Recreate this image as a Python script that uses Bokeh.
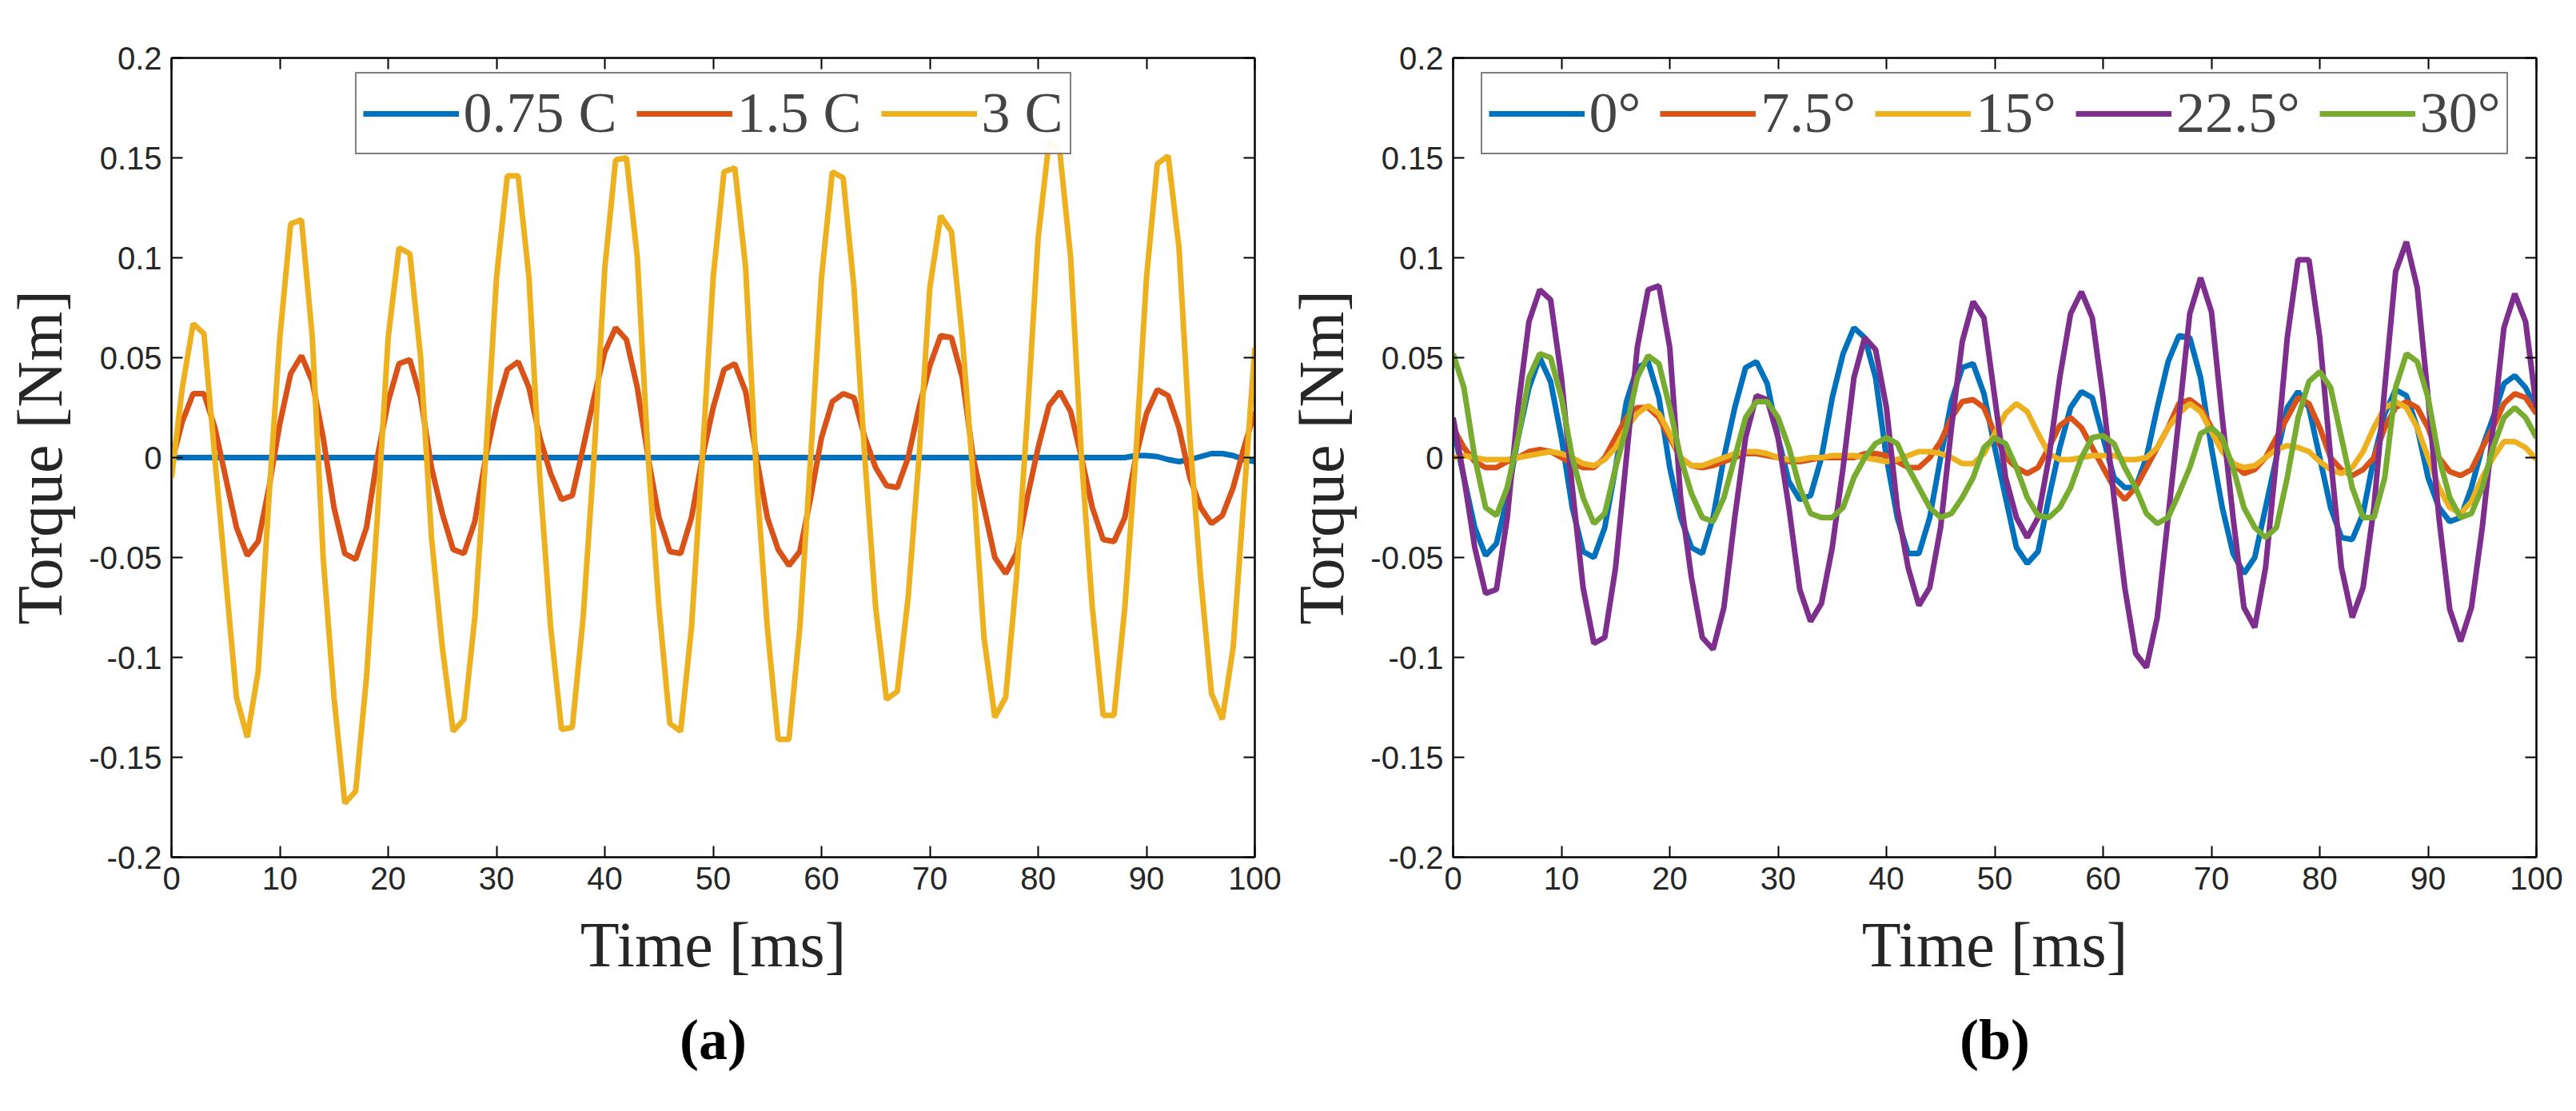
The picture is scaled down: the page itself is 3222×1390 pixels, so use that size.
from bokeh.plotting import figure
from bokeh.layouts import row
from bokeh.models import (LinearAxis, Title, Range1d, FixedTicker, CustomJSTickFormatter, Legend, LegendItem)
from bokeh.embed import file_html
from bokeh.resources import INLINE

t = list(range(0, 101))

a_075 = [0.0]*89 + [0.001, 0.001, 0.0005, -0.001, -0.002, -0.001, 0.0005, 0.002, 0.002, 0.001, -0.001, -0.002]
a_15 = [-0.003,0.018,0.032,0.032,0.015,-0.01,-0.035,-0.049,-0.042,-0.015,0.017,0.042,0.051,0.038,0.01,-0.025,-0.048,-0.051,-0.035,0.0,
        0.028,0.047,0.049,0.03,-0.005,-0.028,-0.046,-0.048,-0.032,0.0,0.025,0.044,0.048,0.035,0.01,-0.008,-0.021,-0.019,0.005,0.03,
        0.053,0.065,0.059,0.035,0.0,-0.03,-0.047,-0.048,-0.03,0.0,0.025,0.044,0.047,0.033,0.0,-0.03,-0.046,-0.054,-0.047,-0.02,
        0.01,0.028,0.032,0.03,0.01,-0.005,-0.014,-0.015,0.0,0.025,0.046,0.061,0.06,0.04,0.0,-0.025,-0.05,-0.058,-0.048,-0.02,
        0.005,0.026,0.033,0.023,0.0,-0.025,-0.041,-0.042,-0.03,0.0,0.022,0.034,0.031,0.015,-0.01,-0.025,-0.033,-0.029,-0.015,0.005,0.023]
a_3 = [-0.01,0.035,0.067,0.062,0.0,-0.06,-0.12,-0.14,-0.107,-0.02,0.06,0.117,0.119,0.06,-0.05,-0.12,-0.173,-0.167,-0.11,-0.03,
       0.06,0.105,0.102,0.05,-0.04,-0.095,-0.137,-0.131,-0.08,0.0,0.09,0.141,0.141,0.09,-0.01,-0.085,-0.136,-0.135,-0.08,0.0,
       0.095,0.149,0.15,0.1,0.0,-0.075,-0.133,-0.137,-0.085,0.0,0.09,0.143,0.145,0.095,-0.01,-0.085,-0.141,-0.141,-0.085,0.0,
       0.09,0.143,0.14,0.085,0.0,-0.075,-0.121,-0.117,-0.07,0.0,0.085,0.121,0.113,0.06,-0.01,-0.09,-0.13,-0.12,-0.06,0.02,
       0.11,0.158,0.153,0.1,0.0,-0.075,-0.129,-0.129,-0.075,0.0,0.09,0.147,0.151,0.105,0.01,-0.06,-0.118,-0.131,-0.095,-0.02,0.055]

b_0 = [0.015,-0.01,-0.035,-0.049,-0.043,-0.02,0.01,0.035,0.05,0.038,0.01,-0.025,-0.047,-0.05,-0.035,-0.005,0.028,0.045,0.048,0.03,
       -0.005,-0.03,-0.045,-0.048,-0.03,0.0,0.025,0.045,0.048,0.037,0.01,-0.012,-0.021,-0.019,0.0,0.03,0.052,0.065,0.06,0.04,
       0.0,-0.03,-0.048,-0.048,-0.03,0.0,0.028,0.045,0.047,0.032,0.005,-0.02,-0.045,-0.053,-0.047,-0.02,0.005,0.025,0.033,0.03,
       0.01,-0.01,-0.015,-0.015,0.0,0.025,0.048,0.061,0.06,0.04,0.005,-0.025,-0.048,-0.058,-0.05,-0.025,0.0,0.025,0.033,0.025,
       0.0,-0.025,-0.04,-0.041,-0.028,0.0,0.022,0.034,0.031,0.015,-0.01,-0.025,-0.032,-0.03,-0.015,0.005,0.02,0.037,0.041,0.035,0.024]
b_75 = [0.015,0.005,-0.002,-0.005,-0.005,-0.002,0.0,0.003,0.004,0.003,0.0,-0.003,-0.005,-0.005,0.0,0.01,0.02,0.025,0.025,0.02,
        0.01,0.0,-0.004,-0.005,-0.004,-0.002,0.0,0.002,0.002,0.001,0.0,-0.002,-0.002,-0.001,0.0,0.0,0.0,0.0,0.002,0.002,
        0.001,-0.002,-0.005,-0.005,0.0,0.008,0.02,0.028,0.029,0.025,0.012,0.0,-0.005,-0.008,-0.005,0.005,0.016,0.02,0.015,0.005,
        -0.005,-0.015,-0.021,-0.015,-0.005,0.005,0.015,0.027,0.029,0.025,0.015,0.005,-0.003,-0.008,-0.006,0.0,0.01,0.02,0.03,0.027,
        0.015,0.0,-0.006,-0.009,-0.006,0.0,0.015,0.025,0.028,0.025,0.015,0.0,-0.007,-0.009,-0.006,0.005,0.015,0.027,0.032,0.03,0.022]
b_15 = [0.0,0.001,0.0,-0.001,-0.001,-0.001,0.0,0.001,0.002,0.003,0.002,0.0,-0.003,-0.004,-0.001,0.005,0.015,0.022,0.026,0.022,
        0.012,0.0,-0.004,-0.004,-0.002,0.0,0.002,0.003,0.003,0.002,0.0,-0.001,-0.001,0.0,0.0,0.001,0.001,0.001,0.0,-0.001,
        -0.002,-0.001,0.001,0.003,0.003,0.002,0.0,-0.003,-0.003,0.002,0.012,0.022,0.027,0.023,0.012,0.002,-0.001,-0.001,0.0,0.001,
        0.001,0.001,-0.001,-0.001,0.0,0.005,0.015,0.022,0.027,0.023,0.013,0.003,-0.003,-0.005,-0.004,0.0,0.004,0.006,0.005,0.003,
        -0.002,-0.006,-0.008,-0.005,0.003,0.015,0.025,0.028,0.025,0.015,0.0,-0.015,-0.025,-0.028,-0.022,-0.01,0.0,0.008,0.008,0.005,-0.001]
b_225 = [0.02,-0.01,-0.045,-0.068,-0.066,-0.03,0.025,0.068,0.084,0.079,0.04,-0.015,-0.065,-0.093,-0.09,-0.055,0.0,0.055,0.084,0.086,
         0.055,-0.02,-0.06,-0.09,-0.096,-0.075,-0.03,0.01,0.031,0.029,0.01,-0.025,-0.066,-0.082,-0.073,-0.045,-0.005,0.04,0.06,0.054,
         0.025,-0.025,-0.055,-0.074,-0.065,-0.035,0.015,0.058,0.078,0.07,0.03,-0.01,-0.03,-0.04,-0.03,0.0,0.04,0.072,0.083,0.07,
         0.03,-0.02,-0.065,-0.098,-0.105,-0.08,-0.03,0.02,0.072,0.09,0.073,0.02,-0.03,-0.075,-0.085,-0.055,0.0,0.06,0.099,0.099,
         0.06,0.0,-0.055,-0.08,-0.065,-0.025,0.035,0.093,0.108,0.085,0.03,-0.03,-0.076,-0.092,-0.075,-0.035,0.015,0.065,0.082,0.068,0.025]
b_30 = [0.052,0.035,0.0,-0.025,-0.029,-0.015,0.01,0.04,0.052,0.05,0.03,0.0,-0.02,-0.033,-0.028,-0.005,0.015,0.04,0.051,0.047,
        0.025,0.0,-0.018,-0.03,-0.032,-0.02,0.0,0.02,0.028,0.028,0.02,0.005,-0.015,-0.028,-0.03,-0.03,-0.025,-0.01,0.0,0.007,
        0.01,0.007,-0.005,-0.015,-0.025,-0.03,-0.028,-0.02,-0.01,0.005,0.01,0.007,-0.005,-0.02,-0.029,-0.03,-0.025,-0.015,0.0,0.01,
        0.011,0.007,-0.005,-0.015,-0.028,-0.033,-0.03,-0.018,-0.005,0.012,0.015,0.01,-0.005,-0.025,-0.035,-0.04,-0.035,-0.01,0.02,0.038,
        0.043,0.035,0.01,-0.015,-0.03,-0.03,-0.01,0.035,0.052,0.048,0.03,0.0,-0.02,-0.03,-0.028,-0.015,0.005,0.02,0.025,0.02,0.01]

x_ticks = [0, 10, 20, 30, 40, 50, 60, 70, 80, 90, 100]
y_ticks = [-0.2, -0.15, -0.1, -0.05, 0, 0.05, 0.1, 0.15, 0.2]

C = ["#0072BD", "#D95319", "#EDB120", "#7E2F8E", "#77AC30"]
fmt = CustomJSTickFormatter(code="return String(Math.round(tick*1000)/1000);")

def make(series, labels, cap):
    p = figure(width=1603, height=1370, output_backend="svg", toolbar_location=None,
               x_range=Range1d(0, 100), y_range=Range1d(-0.2, 0.2),
               min_border_left=214, min_border_right=34, min_border_top=72)
    p.outline_line_color = "black"
    p.outline_line_width = 2
    p.grid.visible = False
    items = []
    for i, (ys, lab) in enumerate(zip(series, labels)):
        r = p.line(t, ys, line_color=C[i], line_width=7)
        items.append(LegendItem(label=lab, renderers=[r]))
    for ax in [p.xaxis[0], p.yaxis[0]]:
        ax.major_label_text_font = "Liberation Sans"
        ax.major_label_text_font_size = "40px"
        ax.major_label_text_color = "#262626"
        ax.major_label_standoff = 12
        ax.axis_label_text_font = "Liberation Serif"
        ax.axis_label_text_font_size = "80px"
        ax.axis_label_text_font_style = "normal"
        ax.axis_label_text_color = "#262626"
        ax.axis_label_standoff = 22
        ax.major_tick_in = 14
        ax.major_tick_out = 0
        ax.minor_tick_line_color = None
        ax.axis_line_color = "black"
        ax.axis_line_width = 2
        ax.major_tick_line_width = 2
    p.xaxis[0].ticker = FixedTicker(ticks=x_ticks)
    p.yaxis[0].ticker = FixedTicker(ticks=y_ticks)
    p.yaxis[0].formatter = fmt
    p.yaxis[0].axis_label_standoff = 14
    p.xaxis[0].axis_label = "Time [ms]"
    p.yaxis[0].axis_label = "Torque [Nm]"
    for loc, tk in [("right", y_ticks), ("above", x_ticks)]:
        ax = LinearAxis(ticker=FixedTicker(ticks=tk), major_label_text_font_size="0px",
                        major_tick_in=14, major_tick_out=0, minor_tick_line_color=None,
                        major_tick_line_width=2, axis_line_width=2)
        p.add_layout(ax, loc)
    p.add_layout(Title(text=cap, align="center", text_font="Liberation Serif",
                       text_font_size="72px", text_font_style="bold", text_color="black",
                       standoff=60), "below")
    leg = Legend(items=items, orientation="horizontal", location="top_center",
                 label_text_font="Liberation Serif", label_text_font_size="72px",
                 glyph_width=120, glyph_height=50, label_standoff=6, spacing=24,
                 border_line_color="black", border_line_width=2, padding=8, margin=18)
    p.add_layout(leg, "center")
    return p

p1 = make([a_075, a_15, a_3], ["0.75 C", "1.5 C", "3 C"], "(a)")
p2 = make([b_0, b_75, b_15, b_225, b_30], ["0°", "7.5°", "15°", "22.5°", "30°"], "(b)")
layout = row(p1, p2)
open("out.html", "w").write(file_html(layout, INLINE))
